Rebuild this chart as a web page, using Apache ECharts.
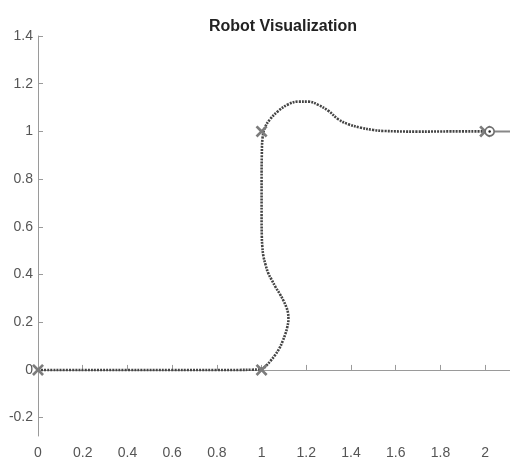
<!DOCTYPE html>
<html>
<head>
<meta charset="utf-8">
<script src="https://cdn.jsdelivr.net/npm/echarts@6/dist/echarts.min.js"></script>
<style>html,body{margin:0;padding:0;background:#fff;}#c{width:510px;height:460px;}</style>
</head>
<body>
<div id="c"></div>
<script>
// Path traced by the robot
var pathX = [0, 0.2, 0.4, 0.6, 0.8, 0.9, 0.96, 0.985, 1.0, 1.01, 1.023, 1.04, 1.06, 1.078, 1.094, 1.106, 1.115, 1.12, 1.118, 1.11, 1.098, 1.082, 1.062, 1.045, 1.03, 1.018, 1.008, 1.003, 1.001, 1.0, 1.0, 1.001, 1.004, 1.015, 1.038, 1.075, 1.120, 1.164, 1.209, 1.254, 1.299, 1.343, 1.388, 1.441, 1.50, 1.544, 1.695, 1.85, 2.0];
var pathY = [0, 0, 0, 0, 0, 0, 0.001, 0.002, 0.004, 0.009, 0.02, 0.038, 0.062, 0.088, 0.12, 0.15, 0.18, 0.212, 0.24, 0.265, 0.29, 0.318, 0.348, 0.378, 0.405, 0.44, 0.478, 0.52, 0.56, 0.65, 0.8, 0.9, 0.97, 1.016, 1.051, 1.086, 1.114, 1.125, 1.125, 1.111, 1.086, 1.051, 1.030, 1.016, 1.006, 1.002, 0.999, 1.0, 1.0];
// Waypoints
var waypointX = [0, 1, 1, 2];
var waypointY = [0, 0, 1, 1];
// Robot pose and heading
var robotX = [2.02];
var robotY = [1];
var headingX = [2.02, 2.2];
var headingY = [1, 1];
// Ticks
var xTicks = [0, 0.2, 0.4, 0.6, 0.8, 1, 1.2, 1.4, 1.6, 1.8, 2];
var yTicks = [-0.2, 0, 0.2, 0.4, 0.6, 0.8, 1, 1.2, 1.4];
var titleText = 'Robot Visualization';

function zip(a, b) { return a.map(function (v, i) { return [v, b[i]]; }); }

var chart = echarts.init(document.getElementById('c'), null, {renderer: 'canvas'});
var axisColor = '#9a9a9a';
var labelColor = '#555555';
var xShape = 'path://M0,1.6L1.6,0L5,3.4L8.4,0L10,1.6L6.6,5L10,8.4L8.4,10L5,6.6L1.6,10L0,8.4L3.4,5Z';

chart.setOption({
  animation: false,
  backgroundColor: '#ffffff',
  title: {
    text: titleText,
    left: 278, top: 14, textAlign: 'center',
    textStyle: {fontFamily: 'Liberation Sans', fontSize: 16, fontWeight: 'bold', color: '#222222'}
  },
  grid: {left: 38, right: 0, top: 36, bottom: 23},
  xAxis: {
    type: 'value', min: 0, max: 2.111,
    axisLine: {show: true, lineStyle: {color: axisColor, width: 1}},
    axisTick: {show: true, inside: true, length: 5, customValues: xTicks, lineStyle: {color: axisColor}},
    axisLabel: {customValues: xTicks, margin: 10, color: labelColor, fontFamily: 'Liberation Sans', fontSize: 14},
    splitLine: {show: false}
  },
  yAxis: {
    type: 'value', min: -0.277, max: 1.4,
    axisLine: {show: true, lineStyle: {color: axisColor, width: 1}},
    axisTick: {show: true, inside: true, length: 5, customValues: yTicks, lineStyle: {color: axisColor}},
    axisLabel: {customValues: yTicks, margin: 5, color: labelColor, fontFamily: 'Liberation Sans', fontSize: 14},
    splitLine: {show: false}
  },
  series: [
    {
      type: 'line', data: zip(pathX, pathY), smooth: 0.4, showSymbol: false,
      lineStyle: {color: '#444444', width: 2.6, type: [2, 1.1], cap: 'butt'},
      z: 2
    },
    {
      type: 'line', data: zip(headingX, headingY), showSymbol: false,
      lineStyle: {color: '#888888', width: 2},
      z: 3
    },
    {
      type: 'scatter', data: zip(waypointX, waypointY), symbol: xShape, symbolSize: 12,
      itemStyle: {color: '#7c7c7c', opacity: 1},
      z: 4
    },
    {
      type: 'scatter', data: zip(robotX, robotY), symbol: 'circle', symbolSize: 9,
      itemStyle: {color: '#ffffff', borderColor: '#6e6e6e', borderWidth: 1.6, opacity: 1},
      z: 5
    },
    {
      type: 'scatter', data: zip(robotX, robotY), symbol: 'circle', symbolSize: 2.5,
      itemStyle: {color: '#222222', opacity: 1},
      z: 6
    }
  ]
});
</script>
</body>
</html>
